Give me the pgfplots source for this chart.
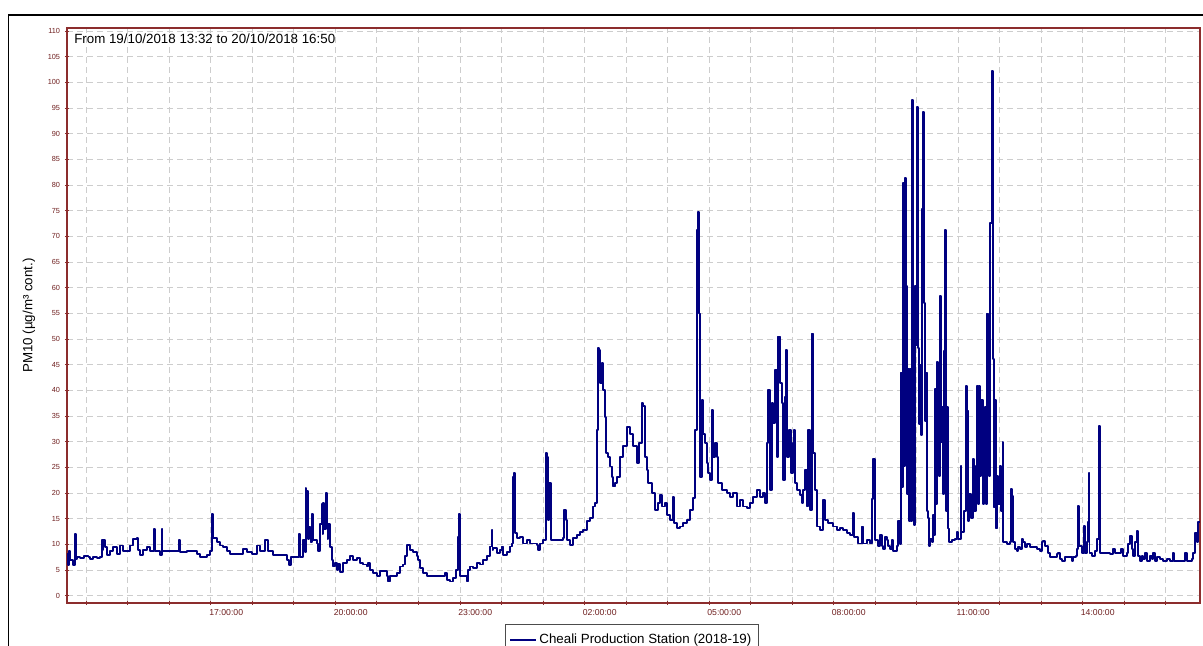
\documentclass[border=0pt]{standalone}
\usepackage{fontspec}
\setmainfont{Liberation Sans}
\usepackage{pgfplots}
\pgfplotsset{compat=1.18}
\definecolor{navyline}{RGB}{0,0,128}
\definecolor{axred}{RGB}{140,45,45}
\definecolor{ticklab}{RGB}{110,30,30}
\definecolor{gridc}{RGB}{205,205,205}
\begin{document}
\begin{tikzpicture}
\begin{axis}[
  at={(50.25pt,32.25pt)}, anchor=south west,
  scale only axis, width=849.75pt, height=431.25pt,
  xmin=13.533, xmax=40.833, ymin=-1.4, ymax=110.6,
  axis line style={draw=axred, line width=0.9pt},
  xtick={17,20,23,26,29,32,35,38},
  xticklabels={17:00:00,20:00:00,23:00:00,02:00:00,05:00:00,08:00:00,11:00:00,14:00:00},
  minor xtick={14,...,40},
  ytick={0,5,...,110},
  grid=both,
  major grid style={gridc, dash pattern=on 4.5pt off 3pt, line width=0.6pt},
  minor grid style={gridc, dash pattern=on 4.5pt off 3pt, line width=0.6pt},
  tick pos=left,
  tick align=center, major tick length=3pt, minor tick length=3pt,
  tick style={axred, line width=0.6pt},
  xticklabel style={font=\fontsize{6.5}{7}\selectfont, text=ticklab, anchor=center, xshift=11.5pt, yshift=-6pt},
  yticklabel style={font=\fontsize{5.5}{6}\selectfont, text=ticklab, anchor=east, inner sep=0pt, xshift=-3.5pt},
  /pgf/number format/assume math mode=true,
  ylabel={PM10 (µg/m³ cont.)},
  ylabel style={at={(axis description cs:-0.0335,0.5)}, anchor=center, font=\fontsize{10}{12}\selectfont},
  legend cell align=left,
  legend style={at={(axis description cs:0.3866,-0.0365)}, anchor=north west, draw=black!70, line width=0.75pt, font=\fontsize{10}{12}\selectfont, inner xsep=3pt, inner ysep=5pt},
]
\addplot[const plot, navyline, line width=1.4pt, line join=round,
  legend image code/.code={\draw[navyline, line width=1pt] (5pt,0pt) -- (13.5pt,0pt); \path (0pt,0pt) -- (19pt,0pt);}] coordinates {
(13.541,8.2) (13.56,6.0) (13.58,8.8) (13.605,6.9) (13.685,6.0) (13.725,12.0) (13.745,7.2) (13.766,7.6)
(13.85,7.4) (13.95,7.8) (14.05,7.6) (14.087,7.2) (14.167,7.6) (14.25,7.4) (14.328,7.6) (14.368,10.8)
(14.39,9.0) (14.408,10.8) (14.448,9.5) (14.489,7.9) (14.569,8.8) (14.649,9.5) (14.729,8.2) (14.810,9.8)
(14.890,8.8) (14.970,8.8) (15.051,9.8) (15.131,11.0) (15.211,11.3) (15.25,9.0) (15.292,7.9) (15.372,8.9)
(15.452,9.5) (15.533,8.8) (15.629,13.0) (15.66,8.8) (15.693,8.8) (15.774,7.9) (15.814,13.0) (15.834,8.8)
(15.854,8.8) (15.934,8.8) (16.05,8.8) (16.175,8.8) (16.231,10.8) (16.26,8.5) (16.296,8.5) (16.416,8.8)
(16.577,8.8) (16.657,8.2) (16.74,7.6) (16.818,7.6) (16.898,7.9) (16.978,8.8) (17.019,14.0) (17.035,15.9)
(17.055,11.3) (17.075,11.3) (17.139,10.5) (17.219,9.8) (17.300,9.5) (17.380,8.8) (17.460,8.2) (17.701,8.2)
(17.782,9.1) (17.862,8.5) (17.982,8.2) (18.103,9.8) (18.183,8.8) (18.304,10.8) (18.384,8.8) (18.505,7.9)
(18.745,7.9) (18.826,6.9) (18.890,6.0) (18.922,7.6) (19.107,7.6) (19.115,12.0) (19.147,7.6) (19.211,10.8)
(19.26,8.5) (19.284,21.0) (19.30,12.0) (19.324,20.4) (19.35,11.0) (19.372,13.4) (19.40,10.5) (19.428,15.9)
(19.45,11.0) (19.468,10.8) (19.549,10.2) (19.589,8.8) (19.629,14.0) (19.669,17.8) (19.69,12.0) (19.709,18.1)
(19.73,13.0) (19.766,20.1) (19.790,15.3) (19.810,11.0) (19.830,14.0) (19.870,9.5)
(19.910,7.0) (19.950,5.7) (19.990,6.4) (20.031,5.1) (20.071,6.2) (20.111,4.7) (20.191,6.4) (20.272,7.0)
(20.352,7.7) (20.432,7.0) (20.513,7.4) (20.593,6.4) (20.673,6.1) (20.754,5.7) (20.794,6.4) (20.834,5.1)
(20.914,4.4) (20.994,3.8) (21.075,4.8) (21.155,4.8) (21.235,3.8) (21.276,2.8) (21.316,3.8) (21.476,4.4)
(21.557,5.7) (21.637,6.1) (21.677,7.7) (21.733,9.9) (21.798,8.9) (21.878,8.6) (21.958,7.7) (21.998,7.0)
(22.039,5.4) (22.119,4.4) (22.199,3.8) (22.601,3.8) (22.641,4.4) (22.681,3.1) (22.762,2.8) (22.842,3.4)
(22.906,5.1) (22.946,11.5) (22.978,16.0) (23.003,3.8) (23.083,3.8) (23.163,2.8) (23.203,5.1) (23.243,5.7)
(23.324,5.4) (23.404,6.4) (23.484,6.1) (23.565,7.0) (23.645,7.7) (23.725,9.6) (23.766,12.8) (23.786,9.0)
(23.806,9.3) (23.886,8.3) (23.966,9.0) (24.007,9.6) (24.047,8.0) (24.127,8.6) (24.207,9.6) (24.248,10.2)
(24.272,23.2) (24.304,23.9) (24.328,12.2) (24.368,11.2) (24.448,11.5) (24.529,10.2) (24.609,10.9) (24.689,10.2)
(24.769,10.2) (24.850,9.9) (24.890,8.9) (24.930,10.2) (25.010,10.9) (25.075,27.8) (25.107,27.1) (25.131,14.8)
(25.155,21.9) (25.187,10.9) (25.251,10.9) (25.412,10.9) (25.492,11.2) (25.516,16.7) (25.549,14.8) (25.589,10.9)
(25.653,9.9) (25.733,11.2) (25.814,11.9) (25.894,12.5) (25.974,12.8) (26.055,14.5) (26.135,15.1) (26.215,17.4)
(26.255,18.0) (26.296,32.3) (26.320,48.2) (26.344,47.9) (26.376,41.4) (26.416,45.3) (26.456,40.1)
(26.496,34.9) (26.521,27.8) (26.577,27.1) (26.617,25.2) (26.657,23.2) (26.697,21.3) (26.737,21.9) (26.778,23.2)
(26.858,27.1) (26.938,29.1) (27.019,32.9) (27.099,31.6) (27.179,29.1) (27.260,25.8) (27.324,29.7) (27.380,37.5)
(27.420,36.9) (27.460,27.1) (27.500,24.5) (27.541,21.9) (27.621,20.0) (27.701,16.7) (27.782,18.0) (27.822,19.6)
(27.862,17.4) (27.942,18.0) (27.982,15.8) (28.063,14.8) (28.127,19.3) (28.159,14.1) (28.223,13.2) (28.304,13.5)
(28.384,14.1) (28.464,14.8) (28.545,16.7) (28.625,19.0) (28.665,32.3) (28.705,71.2) (28.745,74.8) (28.769,55.0)
(28.786,23.2) (28.826,38.1) (28.866,31.6) (28.906,29.7) (28.946,25.8) (28.986,23.9) (29.027,22.6) (29.067,36.2)
(29.107,27.1) (29.147,29.7) (29.187,27.1) (29.227,21.9) (29.308,20.6) (29.428,20.0) (29.508,19.3) (29.589,20.0)
(29.669,17.4) (29.749,18.7) (29.830,17.4) (29.910,17.1) (29.990,18.0) (30.071,19.3) (30.151,20.6) (30.231,19.3)
(30.312,20.0) (30.352,18.0) (30.392,29.7) (30.432,40.1) (30.472,20.6) (30.513,37.5) (30.553,33.6) (30.593,44.0)
(30.633,27.1) (30.673,50.5) (30.713,41.4) (30.754,37.5) (30.794,22.6) (30.834,38.8) (30.858,47.9) (30.890,27.1)
(30.938,32.3) (30.970,23.9) (31.019,29.7) (31.051,32.3) (31.083,21.9) (31.115,20.6) (31.195,19.6) (31.235,18.0)
(31.276,20.6) (31.316,24.5) (31.356,17.4) (31.396,32.3) (31.436,16.7) (31.476,51.1) (31.517,27.8) (31.557,20.6)
(31.597,13.5) (31.677,12.8) (31.757,18.7) (31.798,14.8) (31.878,14.1) (31.998,13.5) (32.079,12.8) (32.159,13.2)
(32.239,12.8) (32.320,12.2) (32.400,11.9) (32.464,16.1) (32.496,11.5) (32.601,10.2) (32.681,13.5) (32.721,10.2)
(32.802,10.9) (32.882,10.2)
(32.922,18.9) (32.962,26.6) (32.994,24.6) (33.011,10.8) (33.083,9.7) (33.123,11.8) (33.163,9.7) (33.203,9.1)
(33.243,11.4) (33.284,10.8) (33.324,9.7) (33.364,9.1) (33.404,10.8) (33.444,8.7) (33.525,9.7) (33.565,14.5)
(33.605,10.1) (33.629,43.5) (33.653,21.2) (33.669,80.4) (33.693,25.3) (33.717,81.4) (33.741,60.4) (33.766,19.9)
(33.790,44.2) (33.814,14.5) (33.838,44.2) (33.862,14.5) (33.886,96.6) (33.910,59.1) (33.934,13.8) (33.958,60.4)
(33.982,48.9) (34.006,95.2) (34.031,48.3) (34.055,33.4) (34.079,44.9) (34.103,31.4) (34.127,75.3) (34.151,94.2)
(34.175,57.0) (34.199,34.1) (34.223,43.5) (34.247,16.5) (34.271,15.2) (34.296,9.7) (34.328,11.1) (34.368,10.4)
(34.408,15.8) (34.432,11.8) (34.456,40.2) (34.480,17.9) (34.504,45.6) (34.529,33.4) (34.553,23.3) (34.577,58.4)
(34.601,30.0) (34.625,36.8) (34.649,19.9) (34.673,47.6) (34.697,71.2) (34.721,16.5) (34.745,36.8) (34.769,13.1)
(34.794,10.4) (34.850,10.8) (34.930,11.1) (34.970,12.5) (35.010,11.1) (35.067,25.3) (35.087,12.5) (35.107,12.5)
(35.147,16.5) (35.187,40.8) (35.211,36.1) (35.235,14.5) (35.276,19.9) (35.316,15.2) (35.356,26.6) (35.396,16.5)
(35.436,25.3) (35.460,40.8) (35.484,17.9) (35.508,40.8) (35.533,23.3) (35.565,38.1) (35.597,17.9) (35.629,33.4)
(35.661,36.8) (35.685,17.9) (35.709,55.0) (35.733,53.0) (35.757,23.3) (35.781,72.6) (35.814,102.3) (35.838,46.2)
(35.862,17.2) (35.886,38.1) (35.910,13.1) (35.934,23.3) (35.974,17.9) (36.014,25.3) (36.047,16.5) (36.079,30.0)
(36.095,10.4) (36.176,10.1) (36.256,10.4) (36.280,20.8) (36.312,19.5) (36.336,10.4) (36.376,9.1) (36.417,8.8)
(36.457,9.5) (36.497,9.1) (36.537,11.0) (36.577,10.4) (36.617,9.5) (36.658,10.1) (36.738,9.5) (36.818,9.5)
(36.899,9.1) (36.979,8.8) (37.019,10.4) (37.059,10.7) (37.099,9.7) (37.180,8.4) (37.220,7.5) (37.300,7.5)
(37.380,8.1) (37.421,8.4) (37.461,7.1) (37.501,6.8) (37.581,7.5) (37.662,7.5) (37.742,6.8) (37.782,7.5)
(37.846,7.8) (37.878,9.1) (37.895,17.5) (37.915,9.7) (37.927,9.7) (37.983,8.4) (38.023,8.4) (38.047,13.6)
(38.071,8.4) (38.103,10.4) (38.127,14.3) (38.151,24.0) (38.171,8.4) (38.224,7.8) (38.304,8.8) (38.360,11.0)
(38.393,33.0) (38.413,8.4) (38.505,8.4) (38.585,8.4) (38.666,8.1) (38.746,9.1) (38.786,8.4) (38.866,8.4)
(38.923,9.1) (38.987,7.8) (39.067,8.4) (39.107,10.1) (39.147,11.7) (39.188,9.1) (39.228,7.8) (39.268,10.4)
(39.308,12.6) (39.348,7.8) (39.388,6.8) (39.429,7.8) (39.469,7.1) (39.509,8.4) (39.549,6.8) (39.629,7.8)
(39.670,7.1) (39.710,8.4) (39.750,6.8) (39.790,7.5) (39.870,7.1) (39.951,6.8) (40.031,7.1) (40.111,6.8)
(40.176,8.4) (40.208,6.8) (40.272,6.8) (40.433,6.8) (40.473,8.4) (40.513,6.8) (40.593,6.8) (40.633,7.1)
(40.674,8.4) (40.714,12.3) (40.754,10.4) (40.794,14.3) (40.834,14.3)
};
\addlegendentry{Cheali Production Station (2018-19)}
\node[anchor=north west, inner sep=0pt, font=\fontsize{10}{12}\selectfont] at (rel axis cs:0.0062,0.991) {From 19/10/2018 13:32 to 20/10/2018 16:50};
\end{axis}
\draw[line width=0.9pt] (6.4pt,-20pt) -- (6.4pt,473.25pt) -- (930pt,473.25pt);
\pgfresetboundingbox
\useasboundingbox (0,0) rectangle (902.25pt,484.5pt);
\end{tikzpicture}
\end{document}
